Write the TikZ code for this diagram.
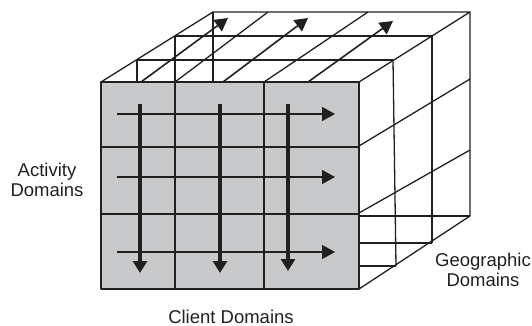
\documentclass[tikz,border=0pt]{standalone}
\usepackage{fontspec}
\setmainfont{Liberation Sans}
\usetikzlibrary{arrows.meta}
\definecolor{facegray}{RGB}{200,201,203}
\definecolor{inkblack}{RGB}{35,31,32}

\begin{document}
\begin{tikzpicture}[x=1pt, y=-1pt, line join=round,
    edge/.style={draw=inkblack, line width=1.3pt},
    flowarrow/.style={draw=inkblack, line width=1.6pt, -{Triangle[length=13pt, width=14pt]}},
    downarrow/.style={draw=inkblack, line width=3.2pt, -{Triangle[length=12pt, width=14pt]}},
    domainlabel/.style={inner sep=0pt, align=center, text=inkblack,
        font=\fontsize{18.5}{20}\selectfont}]
    \useasboundingbox (0,0) rectangle (532,326);

    % Cube corners
    \coordinate (ftl) at (101,82);
    \coordinate (ftr) at (359,82);
    \coordinate (fbl) at (101,289);
    \coordinate (fbr) at (359,289);
    \coordinate (btl) at (213,12);
    \coordinate (btr) at (470,12);
    \coordinate (bbr) at (470,216);

    % Top face: outline, slab edges and depth lines
    \draw[edge] (ftl) -- (btl) -- (btr) -- (ftr);
    \draw[edge] (137,60) -- (393,60);
    \draw[edge] (175,36) -- (432,36);
    \foreach \x/\y in {137/60, 175/36, 213/12}
        \draw[edge] (\x,\y) -- (\x,82);
    \draw[edge] (175,82) -- (268,12);
    \draw[edge] (264,82) -- (368,12);

    % Arrows running back over the top
    \foreach \sx/\tx/\ty in {141/228/18, 223/308/18, 308/393/21}
        \draw[flowarrow] (\sx,82) -- (\tx,\ty);

    % Right face: outline, row lines and slab edges
    \draw[edge] (btr) -- (bbr) -- (fbr);
    \draw[edge] (359,146) -- (470,79);
    \draw[edge] (359,213) -- (470,150);
    \draw[edge] (393,60) -- (396,266);
    \draw[edge] (432,36) -- (432,243);
    \draw[edge] (359,216) -- (bbr);
    \draw[edge] (359,243) -- (432,243);
    \draw[edge] (359,266) -- (396,266);

    % Front face with its 3x3 grid
    \draw[edge, fill=facegray] (ftl) rectangle (fbr);
    \foreach \x in {175, 264}
        \draw[edge] (\x,82) -- (\x,289);
    \foreach \y in {147, 214}
        \draw[edge] (101,\y) -- (359,\y);

    % Arrows across and down the front
    \foreach \y in {114, 177, 252}
        \draw[flowarrow] (117,\y) -- (335,\y);
    \foreach \x/\b in {140/273, 220/273, 288/271}
        \draw[downarrow] (\x,104) -- (\x,\b);

    % Axis labels
    \node[domainlabel] (activity) at (47,180) {Activity\\Domains};
    \node[domainlabel] (client) at (231,316.5) {Client Domains};
    \node[domainlabel] (geographic) at (483,270) {Geographic\\Domains};
\end{tikzpicture}
\end{document}
